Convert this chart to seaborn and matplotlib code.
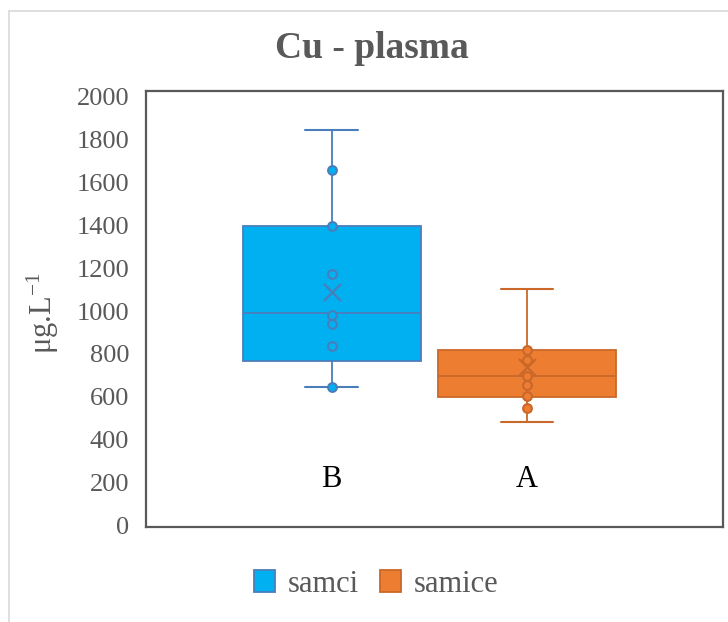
import matplotlib
matplotlib.use("Agg")
import matplotlib.pyplot as plt
from matplotlib.patches import Patch
from matplotlib.lines import Line2D
import seaborn as sns
import pandas as pd

# Cu concentration in plasma, two groups
groups = ["samci", "samice"]
q1 = [767, 600]
median = [991, 697]
q3 = [1396, 818]
whisker_low = [646, 484]
whisker_high = [1844, 1101]
means = [1089, 739]
points_samci = [1657, 1396, 1172, 981, 939, 837, 646]
points_samice = [818, 772, 697, 655, 604, 548]
letters = ["B", "A"]
yticks = [0, 200, 400, 600, 800, 1000, 1200, 1400, 1600, 1800, 2000]

fills = ["#00B0F0", "#ED7D31"]
edges = ["#4A7EBB", "#C9682A"]
text_gray = "#595959"

sns.set_theme(style="white")
plt.rcParams["font.family"] = ["Liberation Serif", "DejaVu Serif"]
plt.rcParams["mathtext.fontset"] = "stix"

fig = plt.figure(figsize=(7.28, 6.22), dpi=100)
ax = fig.add_axes([146 / 728, 1 - 527 / 622, 577 / 728, 436 / 622])

# points per group
df = pd.DataFrame({
    "group": [groups[0]] * len(points_samci) + [groups[1]] * len(points_samice),
    "value": points_samci + points_samice,
})

# boxes from the summary statistics
stats = []
for i, g in enumerate(groups):
    stats.append({"label": g, "q1": q1[i], "med": median[i], "q3": q3[i],
                  "whislo": whisker_low[i], "whishi": whisker_high[i],
                  "mean": means[i], "fliers": []})

for i in range(len(groups)):
    ax.bxp([stats[i]], positions=[i], widths=0.91, capwidths=[0.27],
           showfliers=False, showmeans=False, patch_artist=True,
           boxprops=dict(facecolor=fills[i], edgecolor=edges[i], linewidth=1.3),
           medianprops=dict(color=edges[i], linewidth=1.3),
           whiskerprops=dict(color=edges[i], linewidth=1.3),
           capprops=dict(color=edges[i], linewidth=1.5),
           manage_ticks=False, zorder=2)

for i, g in enumerate(groups):
    sub = df[df["group"] == g]
    sns.scatterplot(x=[i] * len(sub), y=sub["value"], color=fills[i],
                    edgecolor=edges[i], s=40, linewidth=1.5, ax=ax,
                    zorder=3, legend=False)
    ax.scatter([i], [means[i]], marker="x", s=150, color=edges[i],
               linewidths=1.6, zorder=4)
    ax.text(i, 180, letters[i], ha="center", va="baseline", fontsize=22,
            color="black")

ax.set_xlim(-0.951, 2.004)
ax.set_ylim(-7, 2026)
ax.set_yticks(yticks)
ax.set_yticklabels([str(t) for t in yticks])
ax.set_xticks([])
ax.set_xlabel("")
ax.tick_params(axis="y", labelsize=19, labelcolor=text_gray, length=0, pad=12)
ax.set_ylabel(r"μg.L$^{\mathregular{-1}}$", fontsize=22, color=text_gray)
ax.yaxis.set_label_coords(-0.148, 0.49)
for sp in ax.spines.values():
    sp.set_color(text_gray)
    sp.set_linewidth(1.6)
    sp.set_visible(True)

fig.text(372 / 728, 1 - 48 / 622, "Cu - plasma", ha="center", va="center",
         fontsize=27, fontweight="bold", color=text_gray)

handles = [Patch(facecolor=fills[i], edgecolor=edges[i], linewidth=1.3,
                 label=groups[i]) for i in range(len(groups))]
fig.legend(handles=handles, loc="center", bbox_to_anchor=(376 / 728, 1 - 584 / 622),
           ncol=2, frameon=False, fontsize=22, handlelength=0.7,
           handleheight=0.7, handletextpad=0.4, columnspacing=0.7,
           labelcolor=text_gray)

# chart area border
fig.add_artist(Line2D([9 / 728, 9 / 728], [0, 1 - 11 / 622], color="#D9D9D9",
                      linewidth=1.2, transform=fig.transFigure))
fig.add_artist(Line2D([9 / 728, 1], [1 - 11 / 622, 1 - 11 / 622], color="#D9D9D9",
                      linewidth=1.2, transform=fig.transFigure))

fig.savefig("out.png", dpi=100)
